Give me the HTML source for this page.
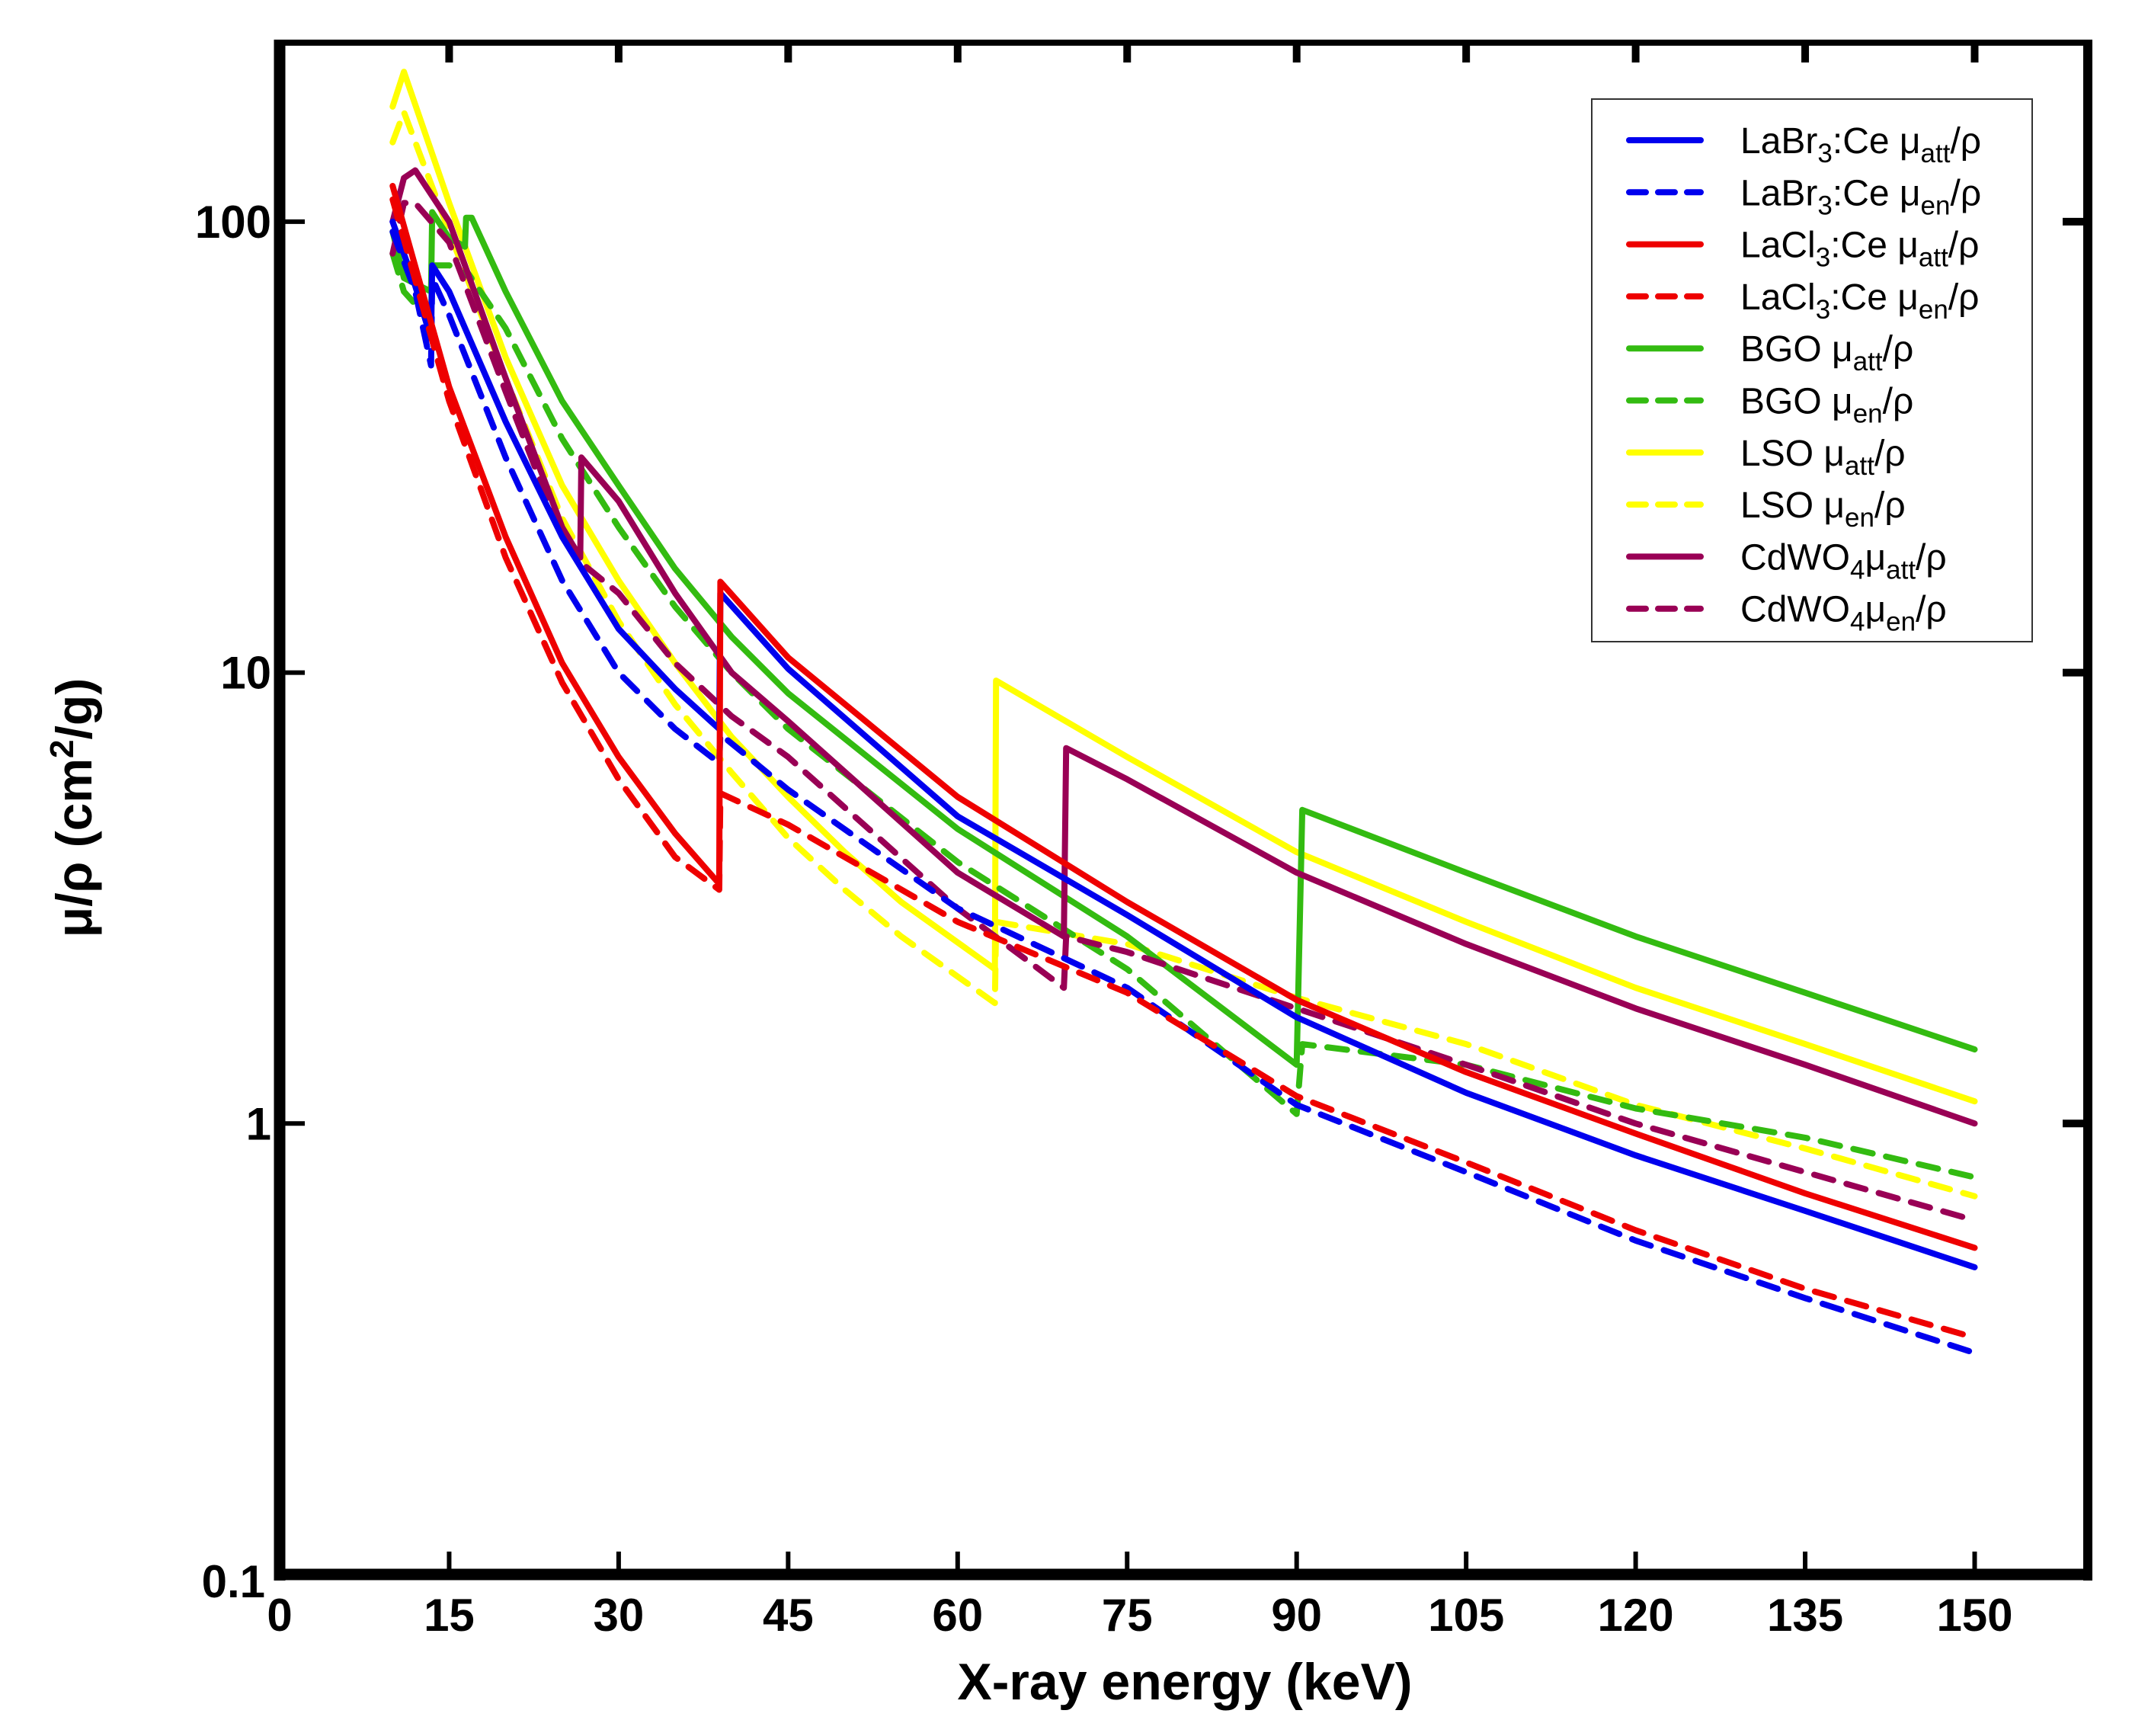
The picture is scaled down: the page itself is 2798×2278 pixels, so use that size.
<!DOCTYPE html>
<html><head><meta charset="utf-8"><style>
html,body{margin:0;padding:0;background:#fff;}
svg{display:block;}
text{font-family:"Liberation Sans",Arial,sans-serif;}
</style></head><body>
<svg id="chart" width="2798" height="2278" viewBox="0 0 2798 2278" xmlns="http://www.w3.org/2000/svg">
<defs><clipPath id="plotclip"><rect x="367" y="56" width="2376" height="2010"/></clipPath></defs>
<g id="series" clip-path="url(#plotclip)"></g>
<g id="axes"></g>
<g id="legend"></g>
</svg>
<script>
const xTicks=[0,15,30,45,60,75,90,105,120,135,150];
const yTicks=[0.1,1,10,100];
const yTickLabels=["0.1","1","10","100"];
const seriesNames=["LaBr3:Ce att","LaBr3:Ce en","LaCl3:Ce att","LaCl3:Ce en","BGO att","BGO en","LSO att","LSO en","CdWO4 att","CdWO4 en"];
const labrAttE=[10,12,13.4,13.5,15,20,25,30,35,38.9,39,45,60,75,90,105,120,135,150];
const labrAttV=[100,72,55,80,70,36,20,12.5,9.2,7.5,15,10.2,4.8,2.9,1.72,1.17,0.85,0.64,0.48];
const labrEnE=[10,12,13.4,13.5,15,20,25,30,35,38.9,39,45,60,75,90,105,120,135,150];
const labrEnV=[95,70,48,75,62,30,16,10,7.5,6.3,7.3,5.5,3.0,2.0,1.1,0.78,0.55,0.41,0.31];
const laclAttE=[10,15,20,25,30,35,38.9,39,45,60,75,90,105,120,135,150];
const laclAttV=[120,43,20,10.5,6.5,4.4,3.4,15.9,10.8,5.3,3.1,1.88,1.3,0.95,0.7,0.53];
const laclEnE=[10,15,20,25,30,35,38.9,39,45,60,75,90,105,120,135,150];
const laclEnV=[112,40,18,9.5,5.8,3.9,3.3,5.4,4.6,2.8,1.95,1.15,0.82,0.58,0.43,0.335];
const bgoAttE=[10,11,13.4,13.5,15,16.4,16.5,17,20,25,30,35,40,45,60,75,90,90.5,105,120,135,150];
const bgoAttV=[95,75,70,105,92,88,102,102,70,40,26,17,12,9,4.5,2.6,1.35,4.96,3.6,2.6,1.95,1.46];
const bgoEnE=[10,11,13.4,13.5,15,16.4,16.5,20,25,30,35,40,45,60,75,90,90.5,105,120,135,150];
const bgoEnV=[85,70,60,80,80,76,78,58,33,21,14,10,7.5,3.8,2.2,1.05,1.5,1.35,1.08,0.93,0.76];
const lsoAttE=[10,11,15,20,25,30,35,40,45,50,55,63.3,63.4,75,90,105,120,135,150];
const lsoAttV=[180,215,110,50,26,16,10.5,7.2,5.3,4.0,3.1,2.2,9.6,6.5,4.0,2.8,2.0,1.5,1.12];
const lsoEnE=[10,11,15,20,25,30,35,40,45,50,55,63.3,63.4,75,90,105,120,135,150];
const lsoEnV=[150,175,95,45,22,13,8.5,6,4.3,3.3,2.6,1.85,2.8,2.5,1.9,1.5,1.1,0.88,0.69];
const cdwAttE=[10,11,12,15,20,25,26.6,26.7,30,35,40,45,60,69.4,69.6,75,90,105,120,135,150];
const cdwAttV=[100,125,130,100,45,21,18,30,24,15,10,7.8,3.6,2.6,6.8,5.8,3.6,2.5,1.8,1.35,1.0];
const cdwEnE=[10,11,12,15,20,25,26.7,30,35,40,45,60,69.4,69.6,75,90,105,120,135,150];
const cdwEnV=[85,110,110,90,42,20,17.5,15,10.5,8,6.5,3.0,2.0,2.6,2.4,1.8,1.35,1.0,0.78,0.61];

const X0=367,XS=14.83,Y0=2066,DEC=591.7;
function xs(e){return X0+e*XS;}
function ys(v){return Y0-(Math.log10(v)+1)*DEC;}
const NS="http://www.w3.org/2000/svg";
function mk(tag,attrs,parent){const el=document.createElementNS(NS,tag);for(const k in attrs)el.setAttribute(k,attrs[k]);parent.appendChild(el);return el;}
const gS=document.getElementById('series'),gA=document.getElementById('axes'),gL=document.getElementById('legend');
const cols={blue:"#0000ee",red:"#ee0000",green:"#33bb11",yellow:"#ffff00",purple:"#990055"};
const defs=[
 [labrAttE,labrAttV,cols.blue,false,"labr3-att-line"],
 [labrEnE,labrEnV,cols.blue,true,"labr3-en-line"],
 [laclAttE,laclAttV,cols.red,false,"lacl3-att-line"],
 [laclEnE,laclEnV,cols.red,true,"lacl3-en-line"],
 [bgoAttE,bgoAttV,cols.green,false,"bgo-att-line"],
 [bgoEnE,bgoEnV,cols.green,true,"bgo-en-line"],
 [lsoAttE,lsoAttV,cols.yellow,false,"lso-att-line"],
 [lsoEnE,lsoEnV,cols.yellow,true,"lso-en-line"],
 [cdwAttE,cdwAttV,cols.purple,false,"cdwo4-att-line"],
 [cdwEnE,cdwEnV,cols.purple,true,"cdwo4-en-line"]];
const drawOrder=[7,6,5,4,9,8,1,0,3,2];
drawOrder.forEach(i=>{const d=defs[i];
 const pts=d[0].map((e,j)=>xs(e).toFixed(1)+","+ys(d[1][j]).toFixed(1)).join(" ");
 const p=mk('polyline',{points:pts,fill:"none",stroke:d[2],"stroke-width":8,"stroke-linejoin":"round","stroke-linecap":"round"},gS);
 if(d[3])p.setAttribute('stroke-dasharray',"26 18");
 
 
});
const f1=mk('line',{x1:367,y1:52,x2:367,y2:2074,stroke:"#000","stroke-width":15},gA);

const f2=mk('line',{x1:360,y1:2066,x2:2745,y2:2066,stroke:"#000","stroke-width":15},gA);

const f3=mk('line',{x1:360,y1:56,x2:2745,y2:56,stroke:"#000","stroke-width":8},gA);

const f4=mk('line',{x1:2740,y1:52,x2:2740,y2:2074,stroke:"#000","stroke-width":12},gA);

xTicks.forEach(t=>{const x=xs(t);
 if(t>0){const a=mk('line',{x1:x,y1:2060,x2:x,y2:2036,stroke:"#000","stroke-width":6},gA);
 
 const b=mk('line',{x1:x,y1:56,x2:x,y2:82,stroke:"#000","stroke-width":10},gA);
 }
 const tx=mk('text',{x:x,y:2140,"text-anchor":"middle","font-size":60,"font-weight":"bold"},gA);tx.textContent=String(t);
 
});
yTicks.forEach((t,i)=>{const y=ys(t);
 if(i>0){const a=mk('line',{x1:367,y1:y,x2:400,y2:y,stroke:"#000","stroke-width":6},gA);
 
 const b=mk('line',{x1:2740,y1:y,x2:2707,y2:y,stroke:"#000","stroke-width":10},gA);
 }
 const tx=mk('text',{x:i==0?348:356,y:y+(i==0?30:21),"text-anchor":"end","font-size":60,"font-weight":"bold"},gA);tx.textContent=yTickLabels[i];
 
});
const xt=mk('text',{x:1555,y:2230,"text-anchor":"middle","font-size":68,"font-weight":"bold"},gA);xt.textContent="X-ray energy (keV)";

const yt=mk('text',{x:0,y:0,"text-anchor":"middle","font-size":66,"font-weight":"bold",transform:"translate(120,1060) rotate(-90)"},gA);
yt.innerHTML='μ/ρ (cm<tspan dy="-24" font-size="44">2</tspan><tspan dy="24">/g)</tspan>';

const lb=mk('rect',{x:2089,y:130,width:578,height:712,fill:"#fff",stroke:"#333","stroke-width":2},gL);

const labels=[["LaBr","3",":Ce μ","att"],["LaBr","3",":Ce μ","en"],["LaCl","3",":Ce μ","att"],["LaCl","3",":Ce μ","en"],["BGO μ","","","att"],["BGO μ","","","en"],["LSO μ","","","att"],["LSO μ","","","en"],["CdWO","4","μ","att"],["CdWO","4","μ","en"]];
defs.forEach((d,i)=>{const y=184+i*68.3;
 const g=mk('g',{},gL);
 const l=mk('line',{x1:2138,y1:y,x2:2232,y2:y,stroke:d[2],"stroke-width":8,"stroke-linecap":"round"},g);
 if(d[3])l.setAttribute('stroke-dasharray',"22 16");
 const t=mk('text',{x:2284,y:y+17,"font-size":48},g);
 const L=labels[i];
 let h=L[0];
 if(L[1])h+='<tspan dy="12" font-size="35">'+L[1]+'</tspan><tspan dy="-12">'+L[2]+'</tspan>';
 h+='<tspan dy="12" font-size="35">'+L[3]+'</tspan><tspan dy="-12">/ρ</tspan>';
 t.innerHTML=h;
});
</script>
</body></html>
